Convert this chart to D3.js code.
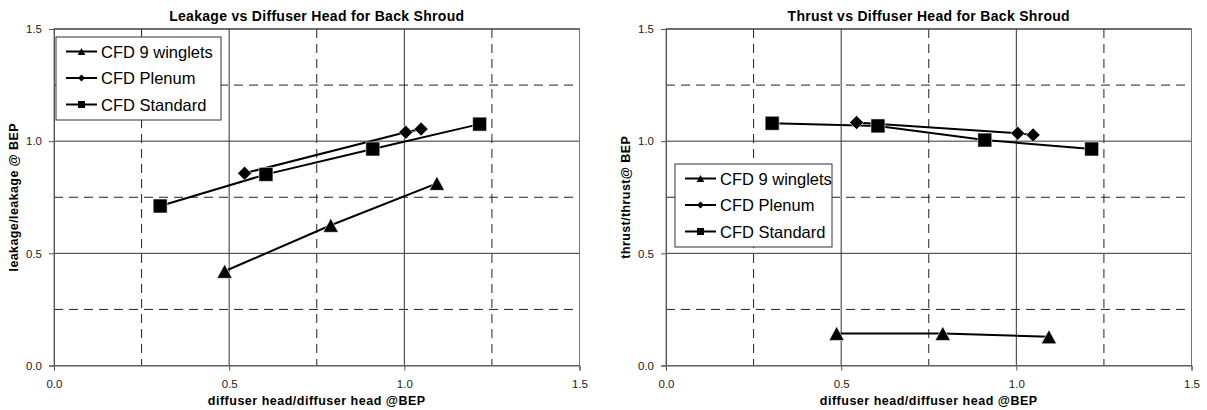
<!DOCTYPE html>
<html>
<head>
<meta charset="utf-8">
<script src="https://cdn.jsdelivr.net/npm/d3@7"></script>
<style>
  body { margin: 0; background: #fff; }
  svg { font-family: Arial, "Liberation Sans", sans-serif; }
</style>
</head>
<body>
<div id="chart"></div>
<script>
// data
const seriesNames = ["CFD 9 winglets", "CFD Plenum", "CFD Standard"];
const headWinglets = [0.487, 0.79, 1.093];
const headPlenum = [0.544, 1.004, 1.048];
const headStandard = [0.303, 0.605, 0.91, 1.215];

const leakWinglets = [0.42, 0.625, 0.812];
const leakPlenum = [0.857, 1.04, 1.054];
const leakStandard = [0.711, 0.852, 0.965, 1.076];

const thrustWinglets = [0.143, 0.143, 0.128];
const thrustPlenum = [1.083, 1.035, 1.028];
const thrustStandard = [1.08, 1.068, 1.005, 0.965];

const tickValues = [0, 0.5, 1.0, 1.5];
const gridValues = [0.25, 0.5, 0.75, 1.0, 1.25];
const solidGrid = [0.5, 1.0];

const W = 1207, H = 410;
const plotW = 525.5, plotH = 336.5;

const svg = d3.select("#chart").append("svg")
    .attr("width", W)
    .attr("height", H);

function zip(xs, ys) {
    return xs.map((x, i) => ({x: x, y: ys[i]}));
}

function drawChart(left, top, title, yLabel, series, legendBox) {
    const g = svg.append("g").attr("transform", "translate(" + left + "," + top + ")");

    const x = d3.scaleLinear().domain([0, 1.5]).range([0, plotW]);
    const y = d3.scaleLinear().domain([0, 1.5]).range([plotH, 0]);

    // grid
    gridValues.forEach(function (v) {
        const solid = solidGrid.indexOf(v) >= 0;
        g.append("line")
            .attr("x1", x(v)).attr("x2", x(v))
            .attr("y1", 0).attr("y2", plotH)
            .attr("stroke", solid ? "#333" : "#222")
            .attr("stroke-width", 1)
            .attr("stroke-dasharray", solid ? null : "9,6");
        g.append("line")
            .attr("x1", 0).attr("x2", plotW)
            .attr("y1", y(v)).attr("y2", y(v))
            .attr("stroke", solid ? "#333" : "#222")
            .attr("stroke-width", 1)
            .attr("stroke-dasharray", solid ? null : "9,6");
    });

    // frame
    g.append("rect")
        .attr("x", 0).attr("y", 0)
        .attr("width", plotW).attr("height", plotH)
        .attr("fill", "none")
        .attr("stroke", "#777")
        .attr("stroke-width", 1);
    g.append("line")
        .attr("x1", 0).attr("x2", plotW).attr("y1", 0).attr("y2", 0)
        .attr("stroke", "#222");

    // axes
    const yAxis = g.append("g")
        .call(d3.axisLeft(y).tickValues(tickValues).tickFormat(d3.format(".1f")).tickSize(5).tickPadding(7));
    const xAxis = g.append("g")
        .attr("transform", "translate(0," + plotH + ")")
        .call(d3.axisBottom(x).tickValues(tickValues).tickFormat(d3.format(".1f")).tickSize(5).tickPadding(9));
    [xAxis, yAxis].forEach(function (a) {
        a.select(".domain").attr("stroke", "#555");
        a.selectAll(".tick line").attr("stroke", "#555");
        a.selectAll(".tick text")
            .attr("fill", "#222")
            .style("font-size", "11.5px")
            .style("font-family", "Arial, 'Liberation Sans', sans-serif");
    });

    // titles
    g.append("text")
        .attr("x", plotW / 2).attr("y", -8)
        .attr("text-anchor", "middle")
        .style("font-size", "14px")
        .style("font-weight", "bold")
        .style("letter-spacing", "0.3px")
        .text(title);
    g.append("text")
        .attr("x", plotW / 2).attr("y", plotH + 39)
        .attr("text-anchor", "middle")
        .style("font-size", "12.5px")
        .style("font-weight", "bold")
        .style("letter-spacing", "0.5px")
        .text("diffuser head/diffuser head @BEP");
    g.append("text")
        .attr("transform", "translate(-36," + (plotH / 2) + ") rotate(-90)")
        .attr("text-anchor", "middle")
        .style("font-size", "12.5px")
        .style("font-weight", "bold")
        .style("letter-spacing", "0.4px")
        .text(yLabel);

    // series
    const line = d3.line().x(d => x(d.x)).y(d => y(d.y));
    series.forEach(function (s) {
        g.append("path")
            .datum(s.points)
            .attr("d", line)
            .attr("fill", "none")
            .attr("stroke", "#000")
            .attr("stroke-width", 2);
    });
    series.forEach(function (s) {
        g.selectAll(null)
            .data(s.points)
            .enter()
            .append("path")
            .attr("transform", d => "translate(" + x(d.x) + "," + y(d.y) + ")")
            .attr("d", s.marker(1))
            .attr("fill", "#000")
            .attr("stroke", "#fff")
            .attr("stroke-width", 0.6);
    });

    // legend
    const lg = svg.append("g").attr("transform", "translate(" + legendBox.x + "," + legendBox.y + ")");
    lg.append("rect")
        .attr("x", 0).attr("y", 0)
        .attr("width", legendBox.w).attr("height", 83)
        .attr("fill", "#fff")
        .attr("stroke", "#333")
        .attr("stroke-width", 1);
    series.forEach(function (s, i) {
        const cy = 14.5 + i * 26.5;
        lg.append("line")
            .attr("x1", 10).attr("x2", 41)
            .attr("y1", cy).attr("y2", cy)
            .attr("stroke", "#000")
            .attr("stroke-width", 2);
        lg.append("path")
            .attr("transform", "translate(25.5," + cy + ")")
            .attr("d", s.marker(0.5))
            .attr("fill", "#000");
        lg.append("text")
            .attr("x", 45).attr("y", cy + 6)
            .style("font-size", "16.5px")
            .text(s.name);
    });
}

// marker shapes, k scales the size
function triangle(k) {
    const w = 7.6 * k, h = 14 * k;
    return "M0," + (-h / 2) + "L" + w + "," + (h / 2) + "L" + (-w) + "," + (h / 2) + "Z";
}
function diamond(k) {
    const r = 7 * k;
    return "M0," + (-r) + "L" + r + ",0L0," + r + "L" + (-r) + ",0Z";
}
function square(k) {
    const r = 7 * k;
    return "M" + (-r) + "," + (-r) + "H" + r + "V" + r + "H" + (-r) + "Z";
}

drawChart(54, 29, "Leakage vs Diffuser Head for Back Shroud", "leakage/leakage @ BEP", [
    {name: seriesNames[0], points: zip(headWinglets, leakWinglets), marker: triangle},
    {name: seriesNames[1], points: zip(headPlenum, leakPlenum), marker: diamond},
    {name: seriesNames[2], points: zip(headStandard, leakStandard), marker: square}
], {x: 56, y: 37, w: 165});

drawChart(666, 29, "Thrust vs Diffuser Head for Back Shroud", "thrust/thrust@ BEP", [
    {name: seriesNames[0], points: zip(headWinglets, thrustWinglets), marker: triangle},
    {name: seriesNames[1], points: zip(headPlenum, thrustPlenum), marker: diamond},
    {name: seriesNames[2], points: zip(headStandard, thrustStandard), marker: square}
], {x: 675, y: 164, w: 157});
</script>
</body>
</html>
